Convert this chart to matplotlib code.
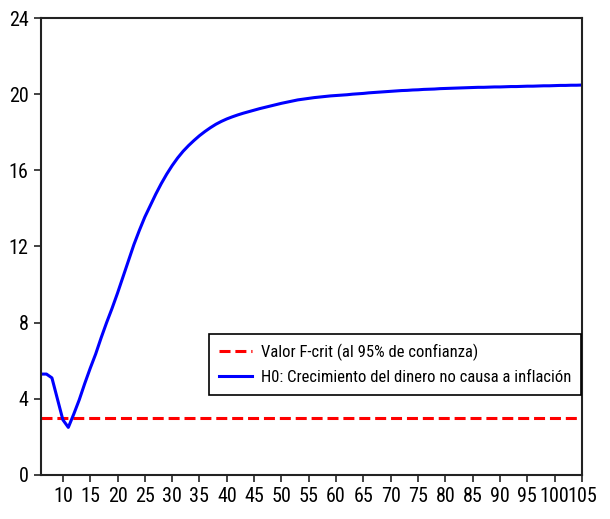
import matplotlib
matplotlib.use("Agg")
import matplotlib.pyplot as plt
from matplotlib import font_manager

# fuente estrecha si existe, si no Liberation Sans
narrow = None
for fam in ['Liberation Sans Narrow', 'Roboto Condensed', 'Open Sans Condensed']:
    try:
        font_manager.findfont(fam, fallback_to_default=False)
        narrow = fam
        break
    except ValueError:
        pass
plt.rcParams['font.family'] = [narrow or 'Liberation Sans', 'DejaVu Sans']
tick_size = 14.5 if narrow else 12
legend_size = 12 if narrow else 11

# estadístico F de Granger según el tamaño de muestra
x = list(range(6, 106))
f_stat = [5.3, 5.3, 5.1, 4.0, 2.9, 2.5, 3.2, 3.95, 4.8, 5.6,          # 6-15
          6.35, 7.2, 8.0, 8.75, 9.55, 10.4, 11.25, 12.1, 12.85, 13.55,  # 16-25
          14.15, 14.75, 15.3, 15.8, 16.25, 16.65, 17.0, 17.3, 17.57, 17.82,  # 26-35
          18.04, 18.24, 18.42, 18.57, 18.7, 18.81, 18.91, 19.0, 19.08, 19.16,  # 36-45
          19.24, 19.31, 19.38, 19.45, 19.52, 19.58, 19.64, 19.7, 19.74, 19.78,  # 46-55
          19.82, 19.85, 19.88, 19.91, 19.93, 19.95, 19.97, 20.0, 20.02, 20.04,  # 56-65
          20.07, 20.09, 20.11, 20.13, 20.15, 20.17, 20.19, 20.2, 20.22, 20.23,  # 66-75
          20.25, 20.26, 20.27, 20.29, 20.3, 20.31, 20.32, 20.33, 20.34, 20.35,  # 76-85
          20.36, 20.36, 20.37, 20.38, 20.38, 20.39, 20.4, 20.4, 20.41, 20.42,  # 86-95
          20.42, 20.43, 20.44, 20.44, 20.45, 20.46, 20.46, 20.47, 20.47, 20.48]  # 96-105
f_crit = 2.98

fig = plt.figure(figsize=(6.1, 5.19), dpi=100)
ax = fig.add_axes([0.0672, 0.0848, 0.887, 0.8805])

ax.plot(x, [f_crit] * len(x), color='#ff0000', lw=2.2, dashes=(3.6, 1.6),
        label='Valor F-crit (al 95% de confianza)')
ax.plot(x, f_stat, color='#0000ff', lw=2.2,
        label='H0: Crecimiento del dinero no causa a inflación')

ax.set_xlim(6, 105)
ax.set_ylim(0, 24)
ax.set_xticks(range(10, 106, 5))
ax.set_yticks(range(0, 25, 4))
ax.tick_params(direction='out', length=5, width=1.2, labelsize=tick_size, pad=4,
               color='#222222')
for s in ax.spines.values():
    s.set_linewidth(1.5)
    s.set_color('#222222')

leg = ax.legend(loc='lower right', bbox_to_anchor=(0.998, 0.175), fontsize=legend_size,
                frameon=True, fancybox=False, framealpha=1, edgecolor='black',
                handlelength=2.0, handletextpad=0.5, borderpad=0.6,
                labelspacing=0.55, borderaxespad=0)
leg.get_frame().set_linewidth(1.2)

fig.savefig('out.png', dpi=100)
